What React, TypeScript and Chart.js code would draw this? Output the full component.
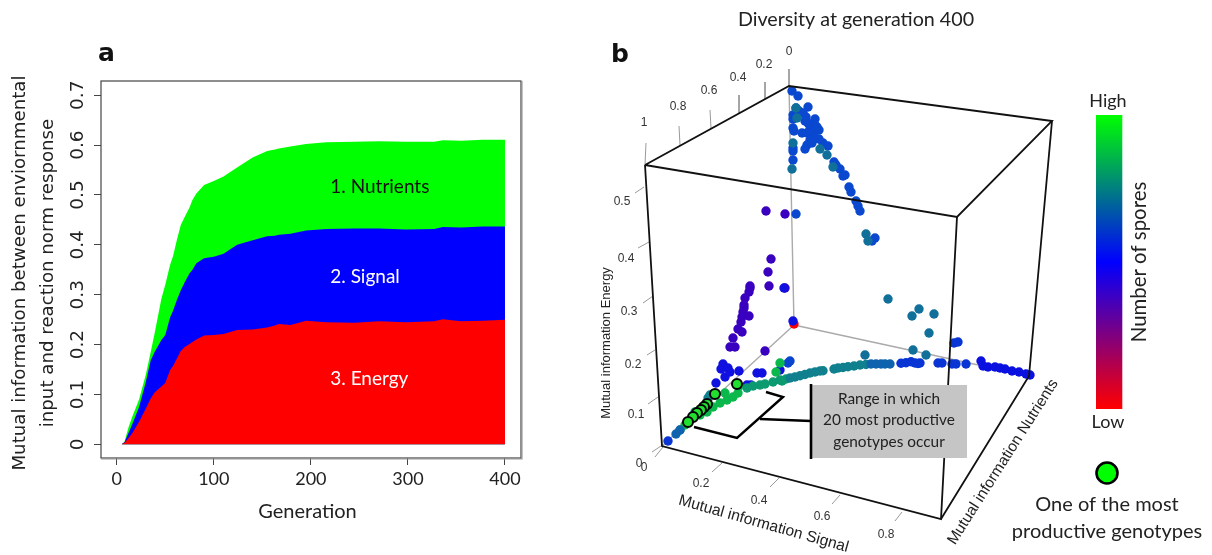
import React, { useEffect, useRef } from "react";
import { Chart, registerables } from "chart.js";
Chart.register(...registerables);

// ---------- panel a ----------
const generations = [5,8,12,16,23,30,35,39,46,50,55,58,62,66,70,75,78,82,90,100,110,124,140,155,163,167,179,195,216,245,270,298,327,336,355,377,400];
const energyTop = [0,.003,.012,.022,.045,.072,.092,.104,.116,.123,.149,.157,.172,.187,.195,.201,.205,.21,.218,.219,.221,.229,.23,.234,.238,.241,.239,.248,.245,.244,.247,.245,.247,.251,.247,.248,.25];
const signalTop = [0,.004,.022,.04,.075,.125,.168,.185,.209,.219,.255,.268,.29,.309,.325,.343,.35,.363,.373,.376,.382,.4,.409,.417,.418,.42,.422,.429,.432,.433,.433,.431,.432,.436,.435,.437,.437];
const nutrientsTop = [0,.005,.033,.055,.09,.14,.185,.222,.292,.32,.36,.377,.41,.44,.456,.475,.49,.503,.52,.528,.537,.555,.575,.588,.591,.593,.597,.602,.606,.607,.608,.607,.607,.61,.609,.611,.611];
const xTicks = [0,100,200,300,400];
const yTicks = [0,.1,.2,.3,.4,.5,.6,.7];
const bandLabels: [string, number, number, string][] = [
  ["1. Nutrients", 220, .516, "#111"],
  ["2. Signal", 220, .335, "#fff"],
  ["3. Energy", 220, .131, "#fff"],
];

// ---------- panel b : points in the projected picture plane ----------
type P = [number, number];
const blueCluster: P[] = [[792,91],[798,96],[796,108],[808,107],[799,111],[803,113],[793,115],[793,119],[806,117],[815,119],[808,123],[810,125],[805,121],[815,125],[819,130],[810,129],[813,131],[817,127],[793,128],[794,131],[802,133],[807,133],[812,135],[815,138],[819,139],[810,140],[807,145],[805,149],[812,143],[823,143],[828,146],[793,148],[793,151],[793,160],[834,162],[836,165],[840,169],[843,176],[845,175],[849,187],[851,192],[856,201],[858,206],[860,211],[796,214],[875,238],[872,241]];
const tealCluster: P[] = [[796,108],[797,118],[820,149],[793,143],[827,155],[792,169],[833,167],[866,234],[868,241],[888,299],[919,309],[912,316],[934,314],[929,333],[913,350],[926,355],[865,355]];
const purplePoints: P[] = [[766,211],[771,259],[768,272],[769,286],[750,286],[750,288],[749,292],[745,298],[744,305],[744,308],[743,312],[742,317],[749,316],[741,322],[738,329],[742,332],[733,338],[730,347],[735,347],[785,288],[785,214],[765,351]];
const bluePlume: P[] = [[723,364],[721,369],[728,368],[739,371],[716,383],[725,377],[730,372],[747,385],[751,385],[757,373],[762,373],[780,370],[793,321],[784,288]];
const redPoints: P[] = [[794,324]];
const arcGreen: P[] = [[685,425],[700,415],[707,412],[713,407],[720,403],[727,400],[733,397],[738,393],[725,393],[739,386],[776,372],[780,363]];
const arcSea: P[] = [[680,430],[695,412],[704,407],[747,388],[753,386],[760,385],[765,384],[773,382],[782,381],[780,380],[786,379]];
const arcTeal: P[] = [[708,398],[710,395],[713,394],[790,378],[795,377],[800,375.7],[805,374.5],[810,373],[815,372],[820,371],[823,370.7],[834,369],[838,368],[843,367.5],[848,366.7],[854,366],[860,365],[866,364.5]];
const arcSteel: P[] = [[676,434],[680,430],[871,364],[876,364],[881,364],[885,364],[890,364]];
const arcBlue: P[] = [[668,441],[901,363.3],[906,362.7],[911,361.7],[915,363],[920,363],[918,363.5],[938,363],[942,363],[952,364],[956,364],[966,364],[954,343],[958,342]];
const arcDeep: P[] = [[981,361],[983,366],[988,367],[995,367],[1000,368],[1005,369],[1012,371],[1019,372],[1026,374],[1030,375]];
const topBlues: P[] = [[790,361],[788,363]];
const productive: P[] = [[737,384],[715,394],[707,404],[704,407],[701,410],[697,413],[693,417],[688,422]];
const legendDot: P[] = [[1107,473]];

// box edges of the 3-D frame, in the same plane
const backEdges: P[][] = [[[789,86],[794,325]],[[794,325],[1029,376]],[[794,325],[662,446]]];
const frontEdges: P[][] = [
  [[645,165],[789,86],[1052,121],[957,217],[645,165]],
  [[645,165],[662,446],[941,519],[957,217]],
  [[1052,121],[1029,376],[941,519]],
];
const axisTicks: P[][] = [
  [[646,143],[645,165]],[[679,126],[680,145]],[[710,110],[711,128]],[[739,95],[739,113]],[[765,82],[765,99]],[[789,69],[789,86]],
  [[644,187],[635,193]],[[649,242],[638,248]],[[653,296],[643,303]],[[655,350],[647,355]],[[658,397],[648,404]],[[661,446],[652,452]],[[663,447],[655,457]],
  [[722,463],[712,472]],[[779,478],[770,487]],[[840,495],[832,504]],[[902,512],[895,521]],
];
const bracket: P[][] = [[[766,392],[783,397],[737,438],[694,427]],[[760,419],[811,421]]];

const nutrientTickLabels: [string, number, number][] = [["1",644,123],["0.8",678,107],["0.6",709,91],["0.4",738,78],["0.2",764,65],["0",789,52]];
const energyTickLabels: [string, number, number][] = [["0.5",622,202],["0.4",626,259],["0.3",629,312],["0.2",633,365],["0.1",636,415],["0",639,464]];
const signalTickLabels: [string, number, number][] = [["0",644,468],["0.2",701,484],["0.4",759,501],["0.6",822,517],["0.8",886,535]];
const axisTitles: [string, number, number, number, number][] = [
  ["Mutual information Signal", 763.5, 524, 15.7, 15.6],
  ["Mutual information Energy", 606.5, 343, -90, 13],
  ["Mutual information Nutrients", 1003, 462, -57.5, 15.4],
];
const calloutLines = ["Range in which", "20 most productive", "genotypes occur"];
const legendLines = ["One of the most", "productive genotypes"];
const leftYTitle = ["Mutual information between enviornmental", "input and reaction norm response"];

const LATO = "Lato, sans-serif";

export default function App() {
  const leftRef = useRef<HTMLCanvasElement>(null);
  const rightRef = useRef<HTMLCanvasElement>(null);

  useEffect(() => {
    const xy = (ys: number[]) => generations.map((g, i) => ({ x: g, y: ys[i] }));
    const area = (label: string, ys: number[], color: string, order: number) => ({
      label, data: xy(ys), showLine: true, fill: "origin", backgroundColor: color,
      borderWidth: 0, pointRadius: 0, tension: 0, order,
    });
    const leftPlugin = {
      id: "panelA",
      afterDraw(c: any) {
        const { ctx, chartArea: a, scales } = c;
        ctx.save();
        ctx.strokeStyle = "#444";
        ctx.lineWidth = 1.2;
        ctx.strokeRect(a.left, a.top, a.right - a.left, a.bottom - a.top);
        ctx.strokeStyle = "#999";
        ctx.beginPath();
        ctx.moveTo(a.right + 1, a.top); ctx.lineTo(a.right + 1, a.bottom + 1); ctx.lineTo(a.left, a.bottom + 1);
        ctx.stroke();
        ctx.textAlign = "left"; ctx.textBaseline = "middle";
        ctx.font = `19px ${LATO}`;
        for (const [t, g, v, col] of bandLabels) {
          ctx.fillStyle = col;
          ctx.fillText(t, scales.x.getPixelForValue(g), scales.y.getPixelForValue(v));
        }
        ctx.fillStyle = "#222";
        ctx.textAlign = "center";
        ctx.font = `20px ${LATO}`;
        ctx.fillText("Generation", 307.5, 512);
        ctx.font = "18.2px 'DejaVu Sans'";
        leftYTitle.forEach((t, i) => {
          ctx.save();
          ctx.translate(20 + i * 28.5, 273);
          ctx.rotate(-Math.PI / 2);
          ctx.fillText(t, 0, 0);
          ctx.restore();
        });
        ctx.fillStyle = "#111";
        ctx.textAlign = "left";
        ctx.font = "bold 25px 'DejaVu Sans'";
        ctx.textBaseline = "alphabetic";
        ctx.fillText("a", 98, 61);
        ctx.restore();
      },
    };
    const left = new Chart(leftRef.current!, {
      type: "scatter",
      data: { datasets: [
        area("3. Energy", energyTop, "#ff0000", 1),
        area("2. Signal", signalTop, "#0000ff", 2),
        area("1. Nutrients", nutrientsTop, "#00ff00", 3),
      ] as any },
      options: {
        responsive: false, animation: false,
        layout: { autoPadding: false, padding: { top: 81, right: 39, left: 0, bottom: 0 } },
        plugins: { legend: { display: false }, tooltip: { enabled: false } },
        scales: {
          x: {
            type: "linear", min: -16.2, max: 416.5,
            afterBuildTicks: (s: any) => { s.ticks = xTicks.map((value) => ({ value })); },
            afterFit: (s: any) => { s.height = 97; },
            grid: { drawOnChartArea: false, drawTicks: true, tickLength: 7, color: "#444" },
            border: { display: false },
            ticks: { autoSkip: false, maxRotation: 0, padding: 3, color: "#222", font: { family: LATO, size: 18 }, callback: (v: any) => String(v) },
          },
          y: {
            type: "linear", min: -0.0275, max: 0.7286,
            afterBuildTicks: (s: any) => { s.ticks = yTicks.map((value) => ({ value })); },
            afterFit: (s: any) => { s.width = 101; },
            grid: { drawOnChartArea: false, drawTicks: true, tickLength: 7, color: "#444" },
            border: { display: false },
            ticks: { autoSkip: false, minRotation: 90, maxRotation: 90, crossAlign: "center", padding: 1, color: "#222", font: { family: "'DejaVu Sans'", size: 18.5 }, callback: (v: any) => String(v) },
          },
        },
      } as any,
      plugins: [leftPlugin],
    });

    const pts = (data: P[], color: string, order: number, r = 4.7, border = 0) => ({
      data: data.map(([x, y]) => ({ x, y })), backgroundColor: color, borderColor: "#000",
      borderWidth: border, pointRadius: r, showLine: false, order,
    });
    const lines = (segs: P[][], color: string, width: number, order: number) =>
      segs.map((s) => ({
        data: s.map(([x, y]) => ({ x, y })), showLine: true, borderColor: color, borderWidth: width,
        pointRadius: 0, fill: false, tension: 0, order,
      }));

    const rightPlugin = {
      id: "panelB",
      afterDatasetsDraw(c: any) {
        const { ctx, scales } = c;
        const X = (v: number) => scales.x.getPixelForValue(v);
        const Y = (v: number) => scales.y.getPixelForValue(v);
        const text = (t: string, x: number, y: number, font: string, col: string, deg = 0) => {
          ctx.save();
          ctx.translate(X(x), Y(y));
          ctx.rotate((deg * Math.PI) / 180);
          ctx.font = font; ctx.fillStyle = col;
          ctx.textAlign = "center"; ctx.textBaseline = "middle";
          ctx.fillText(t, 0, 0);
          ctx.restore();
        };
        // callout
        ctx.fillStyle = "#c5c5c5";
        ctx.fillRect(X(811), Y(385), X(967) - X(811), Y(458) - Y(385));
        ctx.strokeStyle = "#000"; ctx.lineWidth = 2.6;
        ctx.beginPath(); ctx.moveTo(X(811), Y(384)); ctx.lineTo(X(811), Y(459)); ctx.stroke();
        calloutLines.forEach((t, i) => text(t, 889, 399 + i * 21.3, `15.4px ${LATO}`, "#222"));
        // colour bar
        const g = ctx.createLinearGradient(0, Y(115), 0, Y(409));
        g.addColorStop(0, "#00ff00"); g.addColorStop(0.5, "#0000ff"); g.addColorStop(1, "#ff0000");
        ctx.fillStyle = g;
        ctx.fillRect(X(1096), Y(115), X(1122.3) - X(1096), Y(409) - Y(115));
        // texts
        text("Diversity at generation 400", 856, 20, `19.7px ${LATO}`, "#222");
        text("High", 1108, 101, `18px ${LATO}`, "#222");
        text("Low", 1108, 422, `18px ${LATO}`, "#222");
        text("Number of spores", 1139, 262, `20.4px ${LATO}`, "#222", -90);
        legendLines.forEach((t, i) => text(t, 1107, 505 + i * 27, `20px ${LATO}`, "#222"));
        const small = "12px 'Liberation Sans'";
        for (const group of [nutrientTickLabels, energyTickLabels, signalTickLabels])
          for (const [t, x, y] of group) text(t, x, y, small, "#333");
        for (const [t, x, y, deg, size] of axisTitles) text(t, x, y, `${size}px 'Liberation Sans'`, "#222", deg);
        ctx.save();
        ctx.font = "bold 25px 'DejaVu Sans'"; ctx.fillStyle = "#111";
        ctx.textAlign = "left"; ctx.textBaseline = "alphabetic";
        ctx.fillText("b", X(611), Y(62));
        ctx.restore();
        // bracket over the callout edge
        ctx.strokeStyle = "#000"; ctx.lineWidth = 2.4; ctx.lineJoin = "miter";
        for (const s of bracket) {
          ctx.beginPath();
          s.forEach(([x, y], i) => (i ? ctx.lineTo(X(x), Y(y)) : ctx.moveTo(X(x), Y(y))));
          ctx.stroke();
        }
      },
    };

    const right = new Chart(rightRef.current!, {
      type: "scatter",
      data: { datasets: [
        pts(legendDot, "#00ff00", 1, 10.5, 2.6),
        ...lines(frontEdges, "#111", 1.8, 2),
        pts(productive, "#22e030", 3, 5, 2),
        pts(arcDeep, "#0a10e0", 5),
        pts(arcBlue, "#0a35d5", 5),
        pts(arcSteel, "#0f62ad", 6),
        pts(arcTeal, "#10808e", 7),
        pts(arcSea, "#0c9a70", 8),
        pts(arcGreen, "#0ab84c", 9),
        pts(topBlues, "#0a44d0", 10),
        pts(tealCluster, "#10709a", 11),
        pts(blueCluster, "#0a48d0", 12),
        pts(bluePlume, "#1010e0", 13),
        pts(purplePoints, "#3a00c0", 14),
        pts(redPoints, "#ff0000", 15),
        ...lines(backEdges, "#aaa", 1.4, 20),
        ...lines(axisTicks, "#999", 1, 20),
      ] as any },
      options: {
        responsive: false, animation: false,
        layout: { autoPadding: false, padding: 0 },
        plugins: { legend: { display: false }, tooltip: { enabled: false } },
        scales: {
          x: { type: "linear", display: false, min: 0, max: 1212 },
          y: { type: "linear", display: false, min: 0, max: 555, reverse: true },
        },
      } as any,
      plugins: [rightPlugin],
    });
    return () => { left.destroy(); right.destroy(); };
  }, []);

  const style: React.CSSProperties = { position: "absolute", left: 0, top: 0 };
  return (
    <div style={{ position: "absolute", left: 0, top: 0, width: 1212, height: 555, overflow: "hidden", background: "#fff" }}>
      <canvas ref={leftRef} width={560} height={555} style={style} />
      <canvas ref={rightRef} width={1212} height={555} style={style} />
    </div>
  );
}
